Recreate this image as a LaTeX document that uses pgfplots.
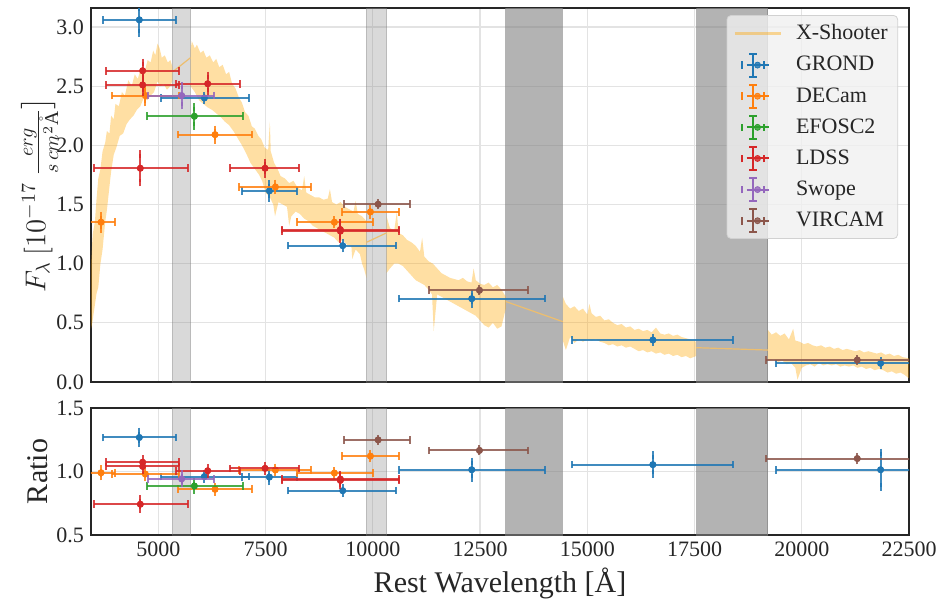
\documentclass[border=0pt]{standalone}
\usepackage{amsmath}
\usepackage{pgfplots}
\pgfplotsset{compat=1.18}
\usepackage{pgfplotstable}
\usepackage{fontspec}
\setmainfont{Liberation Serif}
\definecolor{tabblue}{HTML}{1F77B4}
\definecolor{taborange}{HTML}{FF7F0E}
\definecolor{tabgreen}{HTML}{2CA02C}
\definecolor{tabred}{HTML}{D62728}
\definecolor{tabpurple}{HTML}{9467BD}
\definecolor{tabbrown}{HTML}{8C564B}
\definecolor{xsh}{HTML}{FFA500}
\definecolor{xshline}{HTML}{EDBE6E}
\definecolor{frame}{HTML}{262626}

% columns: x, y, x error minus, x error plus, y error, ratio, ratio error
\pgfplotstableread{
x y xm xp ye r re
4557 3.06 857 855 0.11 1.268 0.047
6073 2.40 1010 1049 0.02 0.960 0.020
7589 1.615 646 636 0.06 0.956 0.035
9298 1.152 1266 1245 0.025 0.849 0.020
12306 0.704 1686 1703 0.045 1.014 0.065
16528 0.355 1883 1862 0.02 1.054 0.076
21838 0.158 2433 2433 0.02 1.014 0.137
}\grond
\pgfplotstableread{
x y xm xp ye r re
3664 1.35 333 333 0.055 0.990 0.030
4697 2.42 786 793 0.06 0.980 0.025
6322 2.09 856 854 0.045 0.860 0.020
7729 1.648 840 832 0.03 1.012 0.020
9104 1.35 879 901 0.02 0.988 0.015
9944 1.437 669 676 0.03 1.121 0.020
}\decam
\pgfplotstableread{
x y xm xp ye r re
5840 2.245 1103 1126 0.08 0.886 0.030
}\efosc
\pgfplotstableread{
x y xm xp ye r re
4634 2.63 854 856 0.07 1.073 0.025
4634 2.51 854 856 0.06 1.040 0.030
6150 2.52 737 755 0.07 1.006 0.025
4580 1.806 1073 1103 0.12 0.742 0.040
7488 1.806 816 800 0.05 1.025 0.020
9244 1.275 1368 1376 0.07 0.930 0.040
9244 1.288 1368 1376 0.06 0.940 0.035
}\ldss
\pgfplotstableread{
x y xm xp ye r re
5543 2.42 776 763 0.085 0.942 0.037
}\swope
\pgfplotstableread{
x y xm xp ye r re
10124 1.502 787 746 0.01 1.249 0.010
12486 0.775 1166 1136 0.01 1.166 0.010
21294 0.186 2137 2137 0.01 1.102 0.015
}\vircam

\newcommand{\errlegimg}[1]{%
  \draw[#1,line width=1bp] (6bp,0) -- (17bp,0);
  \draw[#1,line width=1bp] (11.5bp,-5.75bp) -- (11.5bp,5.75bp);
  \draw[#1,line width=1bp] (6bp,-1.9bp) -- (6bp,1.9bp);
  \draw[#1,line width=1bp] (17bp,-1.9bp) -- (17bp,1.9bp);
  \draw[#1,line width=1bp] (9.6bp,-5.75bp) -- (13.4bp,-5.75bp);
  \draw[#1,line width=1bp] (9.6bp,5.75bp) -- (13.4bp,5.75bp);
  \fill[#1] (11.5bp,0) circle (1.5bp);}

\pgfplotsset{
  panel/.style={
    scale only axis, width=409bp,
    xmin=3430, xmax=22500,
    axis line style={frame, line width=1.25bp},
    major tick length=0pt,
    grid=major, grid style={black!11, line width=0.6bp},
    xtick={5000,7500,10000,12500,15000,17500,20000,22500},
    scaled x ticks=false, scaled y ticks=false,
    /pgf/number format/assume math mode=true,
    /pgf/number format/set thousands separator={},
    tick label style={font=\fontsize{11bp}{13bp}\selectfont, text=frame},
    label style={font=\fontsize{15bp}{18bp}\selectfont, text=frame},
    clip mode=individual,
  },
  xe/.style={
    color=#1, mark=*, mark size=1.5bp, only marks, forget plot,
    error bars/.cd, x dir=both, x explicit, error mark=|,
    error bar style={line width=1bp, opacity=0.85},
    error mark options={line width=1bp, mark size=1.9bp, opacity=0.85},
  },
  ye/.style={
    color=#1, mark=*, mark size=1.5bp, only marks,
    error bars/.cd, y dir=both, y explicit, error mark=-,
    error bar style={line width=1bp, opacity=0.85},
    error mark options={line width=1bp, mark size=1.9bp, opacity=0.85},
  },
  lband/.style={fill=gray, fill opacity=0.3, draw=gray, draw opacity=0.35, line width=0.5bp, forget plot},
  dband/.style={fill=gray, fill opacity=0.6, draw=gray, draw opacity=0.6, line width=0.5bp, forget plot},
}

\begin{document}
\begin{tikzpicture}
\path[use as bounding box] (-45.5bp,4bp) rectangle (424bp,-298bp);

\begin{axis}[panel, name=top, at={(0,0)}, anchor=north west, height=187bp,
  ymin=0, ymax=3.16, ytick={0,0.5,1,1.5,2,2.5,3},
  yticklabel style={/pgf/number format/.cd, fixed, fixed zerofill, precision=1},
  xticklabels={},
  ylabel={$F_\lambda\ [10^{-17}\ \frac{erg}{s\,cm^2\mathring{\mathrm{A}}}\big]$},
  ylabel style={at={(axis description cs:-0.063,0.5)}, anchor=center,
    font=\fontsize{14bp}{17bp}\selectfont},
  legend cell align=left,
  legend style={at={(rel axis cs:0.9866,0.981)}, anchor=north east,
    fill=black!6, fill opacity=0.8, text opacity=1, draw=black!18,
    rounded corners=2bp, font=\fontsize{11bp}{13bp}\selectfont,
    row sep=2.8bp, inner xsep=3bp, inner ysep=2.5bp, text=frame,
    /tikz/every odd column/.append style={column sep=5bp}},
]
\addplot[lband] coordinates {(5330,0) (5330,3.16) (5750,3.16) (5750,0)} -- cycle;
\addplot[lband] coordinates {(9850,0) (9850,3.16) (10320,3.16) (10320,0)} -- cycle;
\addplot[dband] coordinates {(13100,0) (13100,3.16) (14420,3.16) (14420,0)} -- cycle;
\addplot[dband] coordinates {(17550,0) (17550,3.16) (19210,3.16) (19210,0)} -- cycle;

% X-Shooter spectrum: upper edge then lower edge
\addplot[fill=xsh, fill opacity=0.36, draw=none, forget plot] coordinates {
(3430,1.00) (3470,1.25) (3520,1.35) (3560,1.55) (3600,1.72) (3650,1.80) (3700,1.95) (3760,2.02) (3800,2.12) (3860,2.10) (3900,2.25) (3960,2.22) (4000,2.35) (4080,2.33) (4150,2.45) (4220,2.42) (4300,2.55) (4380,2.50) (4450,2.60) (4520,2.56) (4600,2.66) (4680,2.62) (4750,2.72) (4820,2.70) (4880,2.80) (4930,2.76) (4980,2.86) (5030,2.82) (5080,2.74) (5150,2.76) (5220,2.70) (5280,2.72) (5330,2.66)
(5330,2.55) (5280,2.50) (5200,2.47) (5120,2.52) (5050,2.50) (4980,2.54) (4900,2.45) (4820,2.42) (4740,2.38) (4660,2.40) (4580,2.33) (4500,2.30) (4420,2.25) (4340,2.22) (4260,2.18) (4180,2.10) (4100,2.08) (4020,1.98) (3960,1.92) (3900,1.78) (3860,1.65) (3800,1.45) (3760,1.35) (3700,1.12) (3650,1.00) (3600,0.80) (3560,0.75) (3500,0.60) (3460,0.50) (3430,0.45)
} -- cycle;
\addplot[fill=xsh, fill opacity=0.36, draw=none, forget plot] coordinates {
(5750,2.80) (5780,2.88) (5850,2.82) (5900,2.85) (5980,2.78) (6050,2.80) (6120,2.74) (6200,2.76) (6280,2.70) (6350,2.73) (6420,2.66) (6500,2.68) (6580,2.60) (6650,2.62) (6720,2.52) (6800,2.48) (6880,2.40) (6950,2.36) (7020,2.28) (7100,2.25) (7180,2.16) (7250,2.14) (7330,2.08) (7400,2.05) (7480,1.98) (7560,1.96) (7600,2.20) (7620,1.95) (7700,1.85) (7780,1.80) (7850,1.74) (7950,1.72) (8050,1.68) (8150,1.70) (8250,1.64) (8350,1.62) (8400,1.74) (8450,1.60) (8550,1.58) (8650,1.56) (8750,1.56) (8850,1.54) (8950,1.55) (9000,1.63) (9050,1.52) (9150,1.50) (9250,1.52) (9350,1.48) (9450,1.46) (9550,1.44) (9600,1.53) (9650,1.42) (9750,1.40) (9850,1.36)
(9850,0.88) (9800,0.95) (9750,1.00) (9700,1.08) (9600,1.12) (9520,1.04) (9500,1.15) (9400,1.16) (9300,1.20) (9200,1.18) (9100,1.22) (9000,1.24) (8900,1.26) (8800,1.28) (8700,1.30) (8600,1.32) (8500,1.36) (8400,1.38) (8300,1.42) (8200,1.44) (8100,1.40) (8050,1.32) (8000,1.48) (7900,1.50) (7800,1.52) (7720,1.40) (7680,1.50) (7600,1.56) (7500,1.60) (7420,1.70) (7350,1.75) (7250,1.80) (7150,1.85) (7050,1.93) (6950,2.00) (6850,2.06) (6750,2.12) (6650,2.17) (6550,2.20) (6450,2.24) (6350,2.27) (6250,2.30) (6150,2.32) (6050,2.35) (5950,2.38) (5850,2.45) (5750,2.50)
} -- cycle;
\addplot[fill=xsh, fill opacity=0.36, draw=none, forget plot] coordinates {
(10320,1.40) (10400,1.30) (10500,1.28) (10560,1.44) (10600,1.26) (10700,1.24) (10800,1.20) (10900,1.18) (11000,1.15) (11100,1.10) (11150,1.22) (11200,1.06) (11300,1.02) (11400,1.00) (11500,0.96) (11600,0.92) (11700,0.90) (11800,0.88) (11900,0.87) (12000,0.86) (12100,0.88) (12200,0.85) (12300,0.84) (12350,0.96) (12400,0.86) (12500,0.83) (12600,0.82) (12700,0.84) (12800,0.80) (12900,0.82) (13000,0.78) (13100,0.72)
(13100,0.62) (13000,0.47) (12900,0.45) (12800,0.50) (12700,0.46) (12600,0.48) (12500,0.52) (12400,0.56) (12300,0.58) (12200,0.60) (12100,0.62) (12000,0.64) (11900,0.66) (11800,0.68) (11700,0.70) (11600,0.72) (11500,0.74) (11420,0.43) (11380,0.74) (11300,0.78) (11200,0.82) (11100,0.84) (11000,0.86) (10900,0.90) (10800,0.94) (10700,0.98) (10600,1.00) (10500,1.00) (10400,0.96) (10320,0.92)
} -- cycle;
\addplot[fill=xsh, fill opacity=0.36, draw=none, forget plot] coordinates {
(14430,0.72) (14500,0.66) (14600,0.62) (14700,0.64) (14800,0.60) (14900,0.62) (15000,0.57) (15050,0.66) (15100,0.58) (15200,0.55) (15300,0.56) (15400,0.52) (15500,0.53) (15600,0.50) (15700,0.48) (15800,0.49) (15900,0.46) (16000,0.47) (16100,0.44) (16200,0.45) (16300,0.43) (16400,0.44) (16500,0.42) (16600,0.46) (16700,0.41) (16800,0.40) (16900,0.41) (17000,0.39) (17100,0.40) (17200,0.38) (17300,0.37) (17400,0.36) (17540,0.34)
(17540,0.22) (17400,0.20) (17300,0.22) (17200,0.21) (17100,0.23) (17000,0.22) (16900,0.24) (16800,0.23) (16700,0.25) (16600,0.24) (16500,0.26) (16400,0.25) (16300,0.27) (16200,0.26) (16100,0.28) (16000,0.30) (15900,0.29) (15800,0.31) (15700,0.30) (15600,0.32) (15500,0.31) (15400,0.33) (15300,0.34) (15200,0.36) (15100,0.35) (15000,0.36) (14900,0.34) (14800,0.36) (14700,0.33) (14600,0.38) (14500,0.27) (14430,0.35)
} -- cycle;
\addplot[fill=xsh, fill opacity=0.36, draw=none, forget plot] coordinates {
(19210,0.44) (19300,0.40) (19400,0.42) (19500,0.39) (19600,0.41) (19700,0.36) (19800,0.45) (19850,0.35) (19950,0.34) (20050,0.32) (20150,0.33) (20250,0.31) (20350,0.30) (20450,0.31) (20550,0.29) (20650,0.30) (20750,0.28) (20850,0.29) (20950,0.27) (21050,0.28) (21150,0.27) (21250,0.26) (21350,0.27) (21450,0.25) (21550,0.26) (21650,0.25) (21750,0.24) (21850,0.25) (21950,0.23) (22050,0.24) (22150,0.22) (22250,0.23) (22350,0.21) (22500,0.20)
(22500,0.03) (22400,0.06) (22300,0.08) (22200,0.07) (22100,0.09) (22000,0.08) (21900,0.10) (21800,0.11) (21700,0.10) (21600,0.12) (21500,0.11) (21400,0.13) (21300,0.12) (21200,0.14) (21100,0.13) (21000,0.14) (20900,0.13) (20800,0.15) (20700,0.14) (20600,0.15) (20500,0.14) (20400,0.16) (20300,0.13) (20200,0.15) (20100,0.14) (20000,0.12) (19900,0.02) (19850,0.12) (19750,0.16) (19650,0.15) (19550,0.18) (19450,0.17) (19350,0.19) (19210,0.18)
} -- cycle;
% connecting lines across masked regions
\addplot[xshline, line width=0.6bp, forget plot] coordinates {(5330,2.62) (5750,2.74)};
\addplot[xshline, line width=0.6bp, forget plot] coordinates {(9850,1.18) (10320,1.26)};
\addplot[xshline, line width=0.6bp, forget plot] coordinates {(13100,0.68) (14430,0.51)};
\addplot[xshline, line width=0.6bp, forget plot] coordinates {(17540,0.29) (19210,0.27)};

\addlegendimage{legend image code/.code={\draw[xsh, opacity=0.4, line width=1.5bp] (0bp,0) -- (23bp,0);}}
\addlegendentry{X-Shooter}

\addplot[xe=tabblue] table[x=x, y=y, x error minus=xm, x error plus=xp] {\grond};
\addplot[legend image code/.code={\errlegimg{tabblue}}, ye=tabblue] table[x=x, y=y, y error=ye] {\grond};
\addlegendentry{GROND}
\addplot[xe=taborange] table[x=x, y=y, x error minus=xm, x error plus=xp] {\decam};
\addplot[legend image code/.code={\errlegimg{taborange}}, ye=taborange] table[x=x, y=y, y error=ye] {\decam};
\addlegendentry{DECam}
\addplot[xe=tabgreen] table[x=x, y=y, x error minus=xm, x error plus=xp] {\efosc};
\addplot[legend image code/.code={\errlegimg{tabgreen}}, ye=tabgreen] table[x=x, y=y, y error=ye] {\efosc};
\addlegendentry{EFOSC2}
\addplot[xe=tabred] table[x=x, y=y, x error minus=xm, x error plus=xp] {\ldss};
\addplot[legend image code/.code={\errlegimg{tabred}}, ye=tabred] table[x=x, y=y, y error=ye] {\ldss};
\addlegendentry{LDSS}
\addplot[xe=tabpurple] table[x=x, y=y, x error minus=xm, x error plus=xp] {\swope};
\addplot[legend image code/.code={\errlegimg{tabpurple}}, ye=tabpurple] table[x=x, y=y, y error=ye] {\swope};
\addlegendentry{Swope}
\addplot[xe=tabbrown] table[x=x, y=y, x error minus=xm, x error plus=xp] {\vircam};
\addplot[legend image code/.code={\errlegimg{tabbrown}}, ye=tabbrown] table[x=x, y=y, y error=ye] {\vircam};
\addlegendentry{VIRCAM}
\end{axis}

\begin{axis}[panel, name=bot, at={(0,-200bp)}, anchor=north west, height=63.5bp,
  ymin=0.5, ymax=1.5, ytick={0.5,1,1.5},
  yticklabel style={/pgf/number format/.cd, fixed, fixed zerofill, precision=1},
  xlabel={Rest Wavelength [Å]},
  xlabel style={at={(axis description cs:0.5,0)}, anchor=base, yshift=-28.5bp},
  ylabel={Ratio},
  ylabel style={at={(axis description cs:-0.0648,0.5)}, anchor=center},
]
\addplot[lband] coordinates {(5330,0.5) (5330,1.5) (5750,1.5) (5750,0.5)} -- cycle;
\addplot[lband] coordinates {(9850,0.5) (9850,1.5) (10320,1.5) (10320,0.5)} -- cycle;
\addplot[dband] coordinates {(13100,0.5) (13100,1.5) (14420,1.5) (14420,0.5)} -- cycle;
\addplot[dband] coordinates {(17550,0.5) (17550,1.5) (19210,1.5) (19210,0.5)} -- cycle;
\addplot[xe=tabblue] table[x=x, y=r, x error minus=xm, x error plus=xp] {\grond};
\addplot[ye=tabblue] table[x=x, y=r, y error=re] {\grond};
\addplot[xe=taborange] table[x=x, y=r, x error minus=xm, x error plus=xp] {\decam};
\addplot[ye=taborange] table[x=x, y=r, y error=re] {\decam};
\addplot[xe=tabgreen] table[x=x, y=r, x error minus=xm, x error plus=xp] {\efosc};
\addplot[ye=tabgreen] table[x=x, y=r, y error=re] {\efosc};
\addplot[xe=tabred] table[x=x, y=r, x error minus=xm, x error plus=xp] {\ldss};
\addplot[ye=tabred] table[x=x, y=r, y error=re] {\ldss};
\addplot[xe=tabpurple] table[x=x, y=r, x error minus=xm, x error plus=xp] {\swope};
\addplot[ye=tabpurple] table[x=x, y=r, y error=re] {\swope};
\addplot[xe=tabbrown] table[x=x, y=r, x error minus=xm, x error plus=xp] {\vircam};
\addplot[ye=tabbrown] table[x=x, y=r, y error=re] {\vircam};
\end{axis}
\end{tikzpicture}
\end{document}
